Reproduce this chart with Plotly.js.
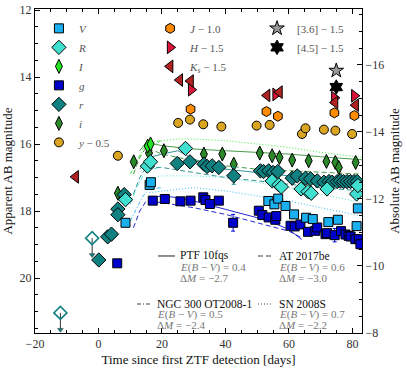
<!DOCTYPE html>
<html><head><meta charset="utf-8">
<script src="https://cdn.plot.ly/plotly-3.0.1.min.js"></script>
<style>html,body{margin:0;padding:0;background:#fff}#plot{width:407px;height:370px}</style>
</head><body><div id="plot"></div>
<script>
// ---- observed photometry (plotted apparent mag, offsets already applied) ----
const V_t = [8.5, 16.1, 16.5, 53.5, 55.4, 56.6, 58.9, 61.6, 65.4, 67.5, 72.4, 75.4, 81.3, 81.7];
const V_m = [18.35, 17.22, 17.14, 17.70, 17.80, 17.63, 17.85, 18.10, 18.20, 18.24, 18.33, 18.26, 18.45, 17.92];
const R_t = [8.5, 15.4, 16.4, 27.4, 54.7, 56.8, 57.6, 63.8, 66.0, 67.0, 72.0, 81.3, 81.7];
const R_m = [17.66, 16.66, 16.53, 16.13, 17.10, 17.22, 17.28, 17.34, 17.42, 17.47, 17.34, 17.49, 17.24];
const I_t = [15.5, 16.4];
const I_m = [16.06, 16.00];
const g_t = [5.9, 17.1, 20.9, 25.8, 29.0, 33.0, 33.7, 35.1, 37.9, 42.4, 50.5, 51.6, 53.6, 55.7, 56.0, 60.5, 61.8, 63.6, 66.0, 68.3, 68.9, 71.5, 72.0, 74.4, 76.4, 77.8, 78.8, 79.4, 80.9, 82.0, 82.5];
const g_m = [19.56, 17.69, 17.64, 17.71, 17.69, 17.59, 17.67, 17.79, 17.69, 18.35, 17.99, 18.12, 18.19, 18.26, 18.15, 18.44, 18.46, 18.40, 18.62, 18.59, 18.49, 18.69, 18.66, 18.72, 18.60, 18.70, 18.74, 18.76, 18.84, 18.84, 18.99];
const g_e = [0.05, 0.05, 0.05, 0.05, 0.05, 0.05, 0.05, 0.05, 0.05, 0.25, 0.05, 0.05, 0.05, 0.05, 0.05, 0.08, 0.05, 0.05, 0.05, 0.05, 0.05, 0.05, 0.05, 0.2, 0.05, 0.05, 0.05, 0.05, 0.05, 0.05, 0.15];
const r_t = [0.1, 2.9, 4.1, 6.1, 6.1, 8.1, 24.8, 28.8, 33.2, 34.2, 35.8, 37.9, 42.6, 51.0, 52.0, 53.6, 55.0, 56.5, 61.0, 62.6, 65.2, 66.8, 68.9, 71.0, 72.6, 73.6, 75.2, 76.2, 77.2, 78.3, 79.4, 80.5, 81.5];
const r_m = [19.46, 18.77, 18.69, 17.94, 18.11, 17.51, 16.58, 16.53, 16.60, 16.67, 16.65, 16.70, 16.95, 16.80, 16.82, 16.80, 16.85, 16.82, 17.02, 16.95, 17.02, 17.04, 17.10, 17.14, 17.12, 17.14, 17.12, 17.10, 17.12, 17.12, 17.12, 17.12, 17.12];
const r_e = [0.15, 0.05, 0.05, 0.05, 0.05, 0.05, 0.05, 0.05, 0.05, 0.05, 0.05, 0.05, 0.25, 0.05, 0.05, 0.05, 0.05, 0.05, 0.05, 0.05, 0.05, 0.05, 0.05, 0.05, 0.05, 0.05, 0.05, 0.05, 0.05, 0.05, 0.05, 0.05, 0.05];
const rlim_t = [-12.0, -2.0];
const rlim_m = [21.04, 18.81];
const i_t = [6.1, 11.1, 15.9, 20.6, 33.2, 39.0, 42.6, 50.8, 54.7, 57.0, 61.0, 66.2, 71.8, 74.6, 75.7, 81.0];
const i_m = [17.47, 16.53, 16.27, 16.20, 16.30, 16.30, 16.60, 16.27, 16.35, 16.40, 16.48, 16.50, 16.52, 16.55, 16.70, 16.55];
const y_t = [6.1, 25.1, 28.8, 33.0, 38.7, 49.8, 53.9, 64.1, 65.2, 71.0, 74.6, 79.9];
const y_m = [16.35, 15.37, 15.27, 15.41, 15.48, 15.45, 15.43, 15.70, 15.53, 15.57, 15.60, 15.70];
const J_t = [29.0, 52.9, 56.5, 74.3, 80.6];
const J_m = [14.96, 15.03, 15.17, 15.07, 15.15];
const H_t = [29.2, 55.8, 74.3, 80.6];
const H_m = [14.38, 14.52, 14.62, 14.56];
const Ks_t = [-7.2, 25.6, 29.0, 53.1, 57.0, 74.5, 81.0];
const Ks_m = [16.98, 14.09, 14.12, 14.55, 14.45, 14.76, 14.84];
const ch1_t = [74.9];
const ch1_m = [13.81];
const ch2_t = [74.9];
const ch2_m = [14.30];

// ---- comparison transients (scaled light curves) ----
const ptf_i_t = [13, 15, 20, 30, 40, 50, 60, 70, 83];
const ptf_i_m = [16.2, 15.95, 16.05, 16.15, 16.2, 16.25, 16.3, 16.38, 16.47];
const ptf_r_t = [13, 16, 20, 25, 30, 40, 50, 60, 70, 83];
const ptf_r_m = [16.75, 16.4, 16.3, 16.2, 16.45, 16.75, 16.85, 16.95, 17.05, 17.18];
const ptf_g_t = [16, 20, 25, 30, 40, 50, 55, 60, 64];
const ptf_g_m = [17.6, 17.55, 17.6, 17.7, 17.95, 18.2, 18.35, 18.55, 18.85];
const at_i_t = [11, 13, 15, 20, 30, 40, 50, 60, 70, 83];
const at_i_m = [16.9, 16.4, 16.1, 16.3, 16.5, 16.65, 16.75, 16.8, 16.85, 16.9];
const at_r_t = [11, 13, 15, 20, 30, 40, 50, 60, 70, 83];
const at_r_m = [17.5, 17.0, 16.7, 16.7, 16.85, 17.0, 17.1, 17.2, 17.3, 17.4];
const at_g_t = [11, 13, 15, 20, 30, 40, 50, 60, 64];
const at_g_m = [18.5, 18.0, 17.7, 17.75, 17.9, 18.1, 18.35, 18.6, 18.8];
const ngc_I_t = [10, 12, 14, 16, 20];
const ngc_I_m = [16.9, 16.5, 16.15, 15.95, 15.9];
const ngc_R_t = [10, 12, 14, 16, 20];
const ngc_R_m = [17.8, 17.3, 16.95, 16.75, 16.7];
const ngc_V_t = [10, 12, 14, 16, 20];
const ngc_V_m = [18.3, 17.9, 17.55, 17.35, 17.3];
const sn_I_t = [18, 20, 25, 30, 40, 50, 60, 70, 83];
const sn_I_m = [16.0, 15.9, 15.85, 15.85, 15.9, 16.0, 16.1, 16.25, 16.4];
const sn_R_t = [16, 20, 25, 30, 40, 50, 60, 70, 83];
const sn_R_m = [17.05, 16.95, 16.95, 16.95, 17.0, 17.15, 17.3, 17.5, 17.75];
const sn_V_t = [16, 20, 25, 30, 40, 50, 60, 70, 83];
const sn_V_m = [17.45, 17.4, 17.35, 17.3, 17.4, 17.55, 17.7, 17.9, 18.15];

// ---- labels ----
const legendLabels = {
  V: '<i>V</i>', R: '<i>R</i>', I: '<i>I</i>', g: '<i>g</i>', r: '<i>r</i>', i: '<i>i</i>',
  y: '<i>y</i> − 0.5', J: '<i>J</i> − 1.0', H: '<i>H</i> − 1.5', Ks: '<i>K<sub>s</sub></i> − 1.5',
  ch1: '[3.6] − 1.5', ch2: '[4.5] − 1.5'
};
const compNames = ['PTF 10fqs', 'AT 2017be', 'NGC 300 OT2008-1', 'SN 2008S'];
const compEBV = ['0.4', '0.6', '0.5', '0.7'];
const compDM = ['−2.7', '−3.0', '−2.4', '−2.2'];

const FONT = 'Liberation Serif';
const C = {V:'#1ab0f0', R:'#40e0d0', I:'#22e622', g:'#0000cd', r:'#108080', i:'#2a8a2a', y:'#daa520', J:'#ff8c00', H:'#dc143c', Ks:'#b22222'};
const DASH = {solid:'solid', dash:'5px,3px', dashdot:'4px,2px,1px,2px', dot:'1px,2px'};
const compDash = [DASH.solid, DASH.dash, DASH.dashdot, DASH.dot];

function line(x, y, color, dash) {
  return {x, y, mode:'lines', type:'scatter', line:{color, width:1, dash}, opacity:0.85, showlegend:false, hoverinfo:'skip'};
}
function pts(x, y, sym, color, size, name, legend, rank, err) {
  const t = {x, y, mode:'markers', type:'scatter', name, legend, legendrank:rank,
    marker:{symbol:sym, color, size, line:{color:'#000', width:1}}};
  if (err) t.error_y = {type:'data', array:err, visible:true, color, thickness:1, width:2};
  return t;
}

const data = [
  line(ptf_i_t, ptf_i_m, C.i, DASH.solid),
  line(ptf_r_t, ptf_r_m, C.r, DASH.solid),
  line(ptf_g_t, ptf_g_m, C.g, DASH.solid),
  line(at_i_t, at_i_m, C.i, DASH.dash),
  line(at_r_t, at_r_m, C.r, DASH.dash),
  line(at_g_t, at_g_m, C.g, DASH.dash),
  line(ngc_I_t, ngc_I_m, C.I, DASH.dashdot),
  line(ngc_R_t, ngc_R_m, C.R, DASH.dashdot),
  line(ngc_V_t, ngc_V_m, C.V, DASH.dashdot),
  line(sn_I_t, sn_I_m, C.I, DASH.dot),
  line(sn_R_t, sn_R_m, C.R, DASH.dot),
  line(sn_V_t, sn_V_m, C.V, DASH.dot),
  {x:rlim_t, y:rlim_m, mode:'markers', showlegend:false,
   marker:{symbol:'diamond-open', color:C.r, size:10, line:{color:C.r, width:1.6}},
   error_y:{type:'data', symmetric:false, array:rlim_m.map(()=>0.5), arrayminus:rlim_m.map(()=>0), color:'#333', thickness:1, width:0}},
  {x:rlim_t, y:rlim_m.map(v=>v+0.5), mode:'markers', showlegend:false,
   marker:{symbol:'triangle-down', color:C.r, size:5, line:{color:'#333', width:0.5}}},
  pts(y_t, y_m, 'circle', C.y, 9, legendLabels.y, 'legend', 7),
  pts(J_t, J_m, 'hexagon', C.J, 10, legendLabels.J, 'legend2', 1),
  pts(H_t, H_m, 'triangle-right', C.H, 11, legendLabels.H, 'legend2', 2),
  pts(Ks_t, Ks_m, 'triangle-left', C.Ks, 11, legendLabels.Ks, 'legend2', 3),
  pts(ch1_t, ch1_m, 'star', '#999', 11, legendLabels.ch1, 'legend3', 1),
  pts(ch2_t, ch2_m, 'hexagram', '#000', 11, legendLabels.ch2, 'legend3', 2),
  pts(i_t, i_m, 'diamond-tall', C.i, 10, legendLabels.i, 'legend', 6),
  pts(r_t, r_m, 'diamond', C.r, 11, legendLabels.r, 'legend', 5, r_e),
  pts(g_t, g_m, 'square', C.g, 9, legendLabels.g, 'legend', 4, g_e),
  pts(I_t, I_m, 'diamond-tall', C.I, 10, legendLabels.I, 'legend', 3),
  pts(R_t, R_m, 'diamond', C.R, 11, legendLabels.R, 'legend', 2),
  pts(V_t, V_m, 'square', C.V, 9, legendLabels.V, 'legend', 1),
  {x:[null], y:[null], yaxis:'y2', mode:'markers', showlegend:false}
];

const DM = 29.64;
const yr = [21.64, 11.97];
const axisFont = {family:FONT, size:12, color:'#333'};
const base = {showline:true, linecolor:'#000', linewidth:1, ticks:'inside', ticklen:5, tickcolor:'#000',
  showgrid:false, zeroline:false, tickfont:axisFont};
const legBase = {bgcolor:'rgba(0,0,0,0)', borderwidth:0, xanchor:'left', yanchor:'top', traceorder:'normal',
  font:{family:FONT, size:11, color:'#555'}, itemclick:false};

// comparison-object key: [sample x0, sample x1, text x, line1 y, line2 y, line3 y] in paper coords
const keyPos = [
  [0.3761, 0.4281, 0.4373, 0.2377, 0.2037, 0.1698],
  [0.6820, 0.7248, 0.7401, 0.2377, 0.2037, 0.1698],
  [0.3119, 0.3517, 0.3670, 0.0895, 0.0556, 0.0247],
  [0.6820, 0.7278, 0.7401, 0.0895, 0.0556, 0.0247]
];
const annotations = [];
const shapes = [];
compNames.forEach((n, k) => {
  const p = keyPos[k];
  shapes.push({type:'line', xref:'paper', yref:'paper', x0:p[0], x1:p[1], y0:p[3], y1:p[3],
    line:{color:'#444', width:1.2, dash:compDash[k]}});
  annotations.push({xref:'paper', yref:'paper', x:p[2], y:p[3], xanchor:'left', yanchor:'middle', showarrow:false,
    text:n, font:{family:FONT, size:11.5, color:'#111'}});
  annotations.push({xref:'paper', yref:'paper', x:p[2], y:p[4], xanchor:'left', yanchor:'middle', showarrow:false,
    text:'<i>E</i>(<i>B</i> − <i>V</i>) = ' + compEBV[k], font:{family:FONT, size:11, color:'#777'}});
  annotations.push({xref:'paper', yref:'paper', x:p[2], y:p[5], xanchor:'left', yanchor:'middle', showarrow:false,
    text:'Δ<i>M</i> = ' + compDM[k], font:{family:FONT, size:11, color:'#777'}});
});

const layout = {
  width:407, height:370,
  margin:{l:35, r:45, t:9, b:37},
  paper_bgcolor:'#fff', plot_bgcolor:'#fff',
  font:{family:FONT, size:12, color:'#222'},
  showlegend:true,
  annotations, shapes,
  xaxis:Object.assign({}, base, {range:[-20, 83], dtick:20, tick0:0, mirror:'ticks',
    minor:{dtick:5, ticks:'inside', ticklen:3, tickcolor:'#000'},
    title:{text:'Time since first ZTF detection [days]', font:{family:FONT, size:13, color:'#111'}, standoff:4}}),
  yaxis:Object.assign({}, base, {range:yr, dtick:2, tick0:12,
    minor:{dtick:0.5, ticks:'inside', ticklen:3, tickcolor:'#000'},
    title:{text:'Apparent AB magnitude', font:{family:FONT, size:13, color:'#111'}, standoff:4}}),
  yaxis2:Object.assign({}, base, {overlaying:'y', side:'right', range:[yr[0]-DM, yr[1]-DM], dtick:2, tick0:-16,
    minor:{dtick:0.5, ticks:'inside', ticklen:3, tickcolor:'#000'},
    title:{text:'Absolute AB magnitude', font:{family:FONT, size:13, color:'#111'}, standoff:6}}),
  legend:Object.assign({}, legBase, {x:0.012, y:0.985}),
  legend2:Object.assign({}, legBase, {x:0.352, y:0.985}),
  legend3:Object.assign({}, legBase, {x:0.679, y:0.985})
};

Plotly.newPlot('plot', data, layout, {staticPlot:true, displayModeBar:false});
</script></body></html>
